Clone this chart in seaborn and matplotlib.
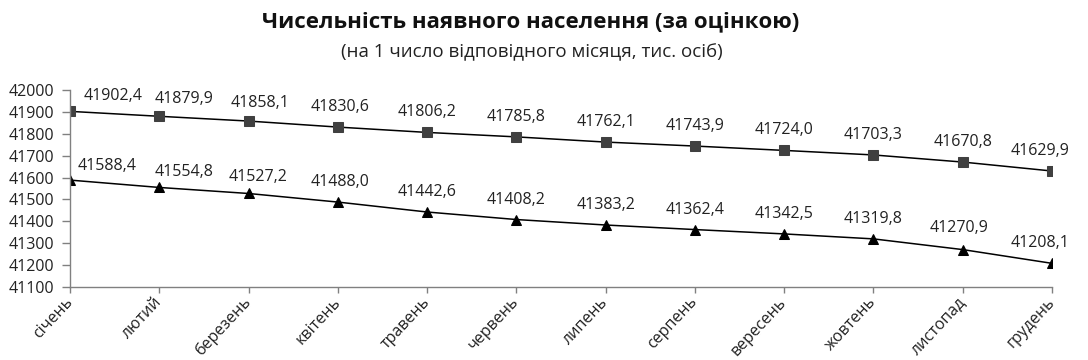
import matplotlib
matplotlib.use("Agg")
import matplotlib.pyplot as plt
import seaborn as sns
import pandas as pd

months = ["січень", "лютий", "березень", "квітень", "травень", "червень",
          "липень", "серпень", "вересень", "жовтень", "листопад", "грудень"]
upper = [41902.4, 41879.9, 41858.1, 41830.6, 41806.2, 41785.8,
         41762.1, 41743.9, 41724.0, 41703.3, 41670.8, 41629.9]
lower = [41588.4, 41554.8, 41527.2, 41488.0, 41442.6, 41408.2,
         41383.2, 41362.4, 41342.5, 41319.8, 41270.9, 41208.1]
yticks = list(range(41100, 42001, 100))

sns.set_theme(style="white")
plt.rcParams['font.family'] = ['Open Sans', 'DejaVu Sans']

fig = plt.figure(figsize=(10.88, 3.6), dpi=100)
ax = fig.add_axes([70/1088, 1-287/360, (1052-70)/1088, (287-90)/360])

df = pd.DataFrame({"month": months, "upper": upper, "lower": lower})
sns.lineplot(data=df, x="month", y="upper", ax=ax, color="black", lw=1.1,
             marker="s", markersize=6.5, markerfacecolor="#404040",
             markeredgecolor="#404040", sort=False)
sns.lineplot(data=df, x="month", y="lower", ax=ax, color="black", lw=1.1,
             marker="^", markersize=7.5, markerfacecolor="black",
             markeredgecolor="black", sort=False)

ax.set_xlim(0, len(months) - 1)
ax.set_ylim(41100, 42000)
ax.set_yticks(yticks)
ax.set_yticklabels([str(v) for v in yticks], fontsize=11.5, color="#222222")
ax.set_xticks(range(len(months)))
ax.set_xticklabels(months, rotation=47, ha="right", va="center",
                   rotation_mode="anchor", fontsize=11.5, color="#222222")
ax.set_xlabel("")
ax.set_ylabel("")

for s in ["top", "right"]:
    ax.spines[s].set_visible(False)
for s in ["left", "bottom"]:
    ax.spines[s].set_color("#808080")
    ax.spines[s].set_linewidth(1.0)
ax.tick_params(axis="both", which="both", direction="out",
               width=1, color="#808080", left=True, bottom=True)
ax.tick_params(axis="y", length=5.5, pad=6)
ax.tick_params(axis="x", length=4, pad=5)
for lbl in ax.get_xticklabels():
    lbl.set_x(lbl.get_position()[0])

def fmt(v):
    return f"{v:.1f}".replace(".", ",")

up_dx = [43, 25, 12, 2, 0, 0, 0, 0, 0, 0, 0, -12]
up_dy = [15, 17, 18, 20, 20, 20, 20, 20, 20, 20, 20, 20]
lo_dx = [37, 25, 10, 2, 0, 0, 0, 0, 0, 0, -4, -12]
lo_dy = [14, 15, 16, 20, 20, 20, 20, 20, 20, 20, 22, 20]

for i, v in enumerate(upper):
    ax.annotate(fmt(v), (i, v), xytext=(up_dx[i], up_dy[i]),
                textcoords="offset pixels", ha="center", va="center",
                fontsize=11.5, color="#222222", annotation_clip=False)
for i, v in enumerate(lower):
    ax.annotate(fmt(v), (i, v), xytext=(lo_dx[i], lo_dy[i]),
                textcoords="offset pixels", ha="center", va="center",
                fontsize=11.5, color="#222222", annotation_clip=False)

fig.text(531/1088, 1-22/360, "Чисельність наявного населення (за оцінкою)",
         ha="center", va="center", fontsize=16, fontweight="bold",
         color="#111111")
fig.text(532/1088, 1-52/360, "(на 1 число відповідного місяця, тис. осіб)",
         ha="center", va="center", fontsize=13.5, color="#222222")

fig.savefig("out.png", dpi=100)
